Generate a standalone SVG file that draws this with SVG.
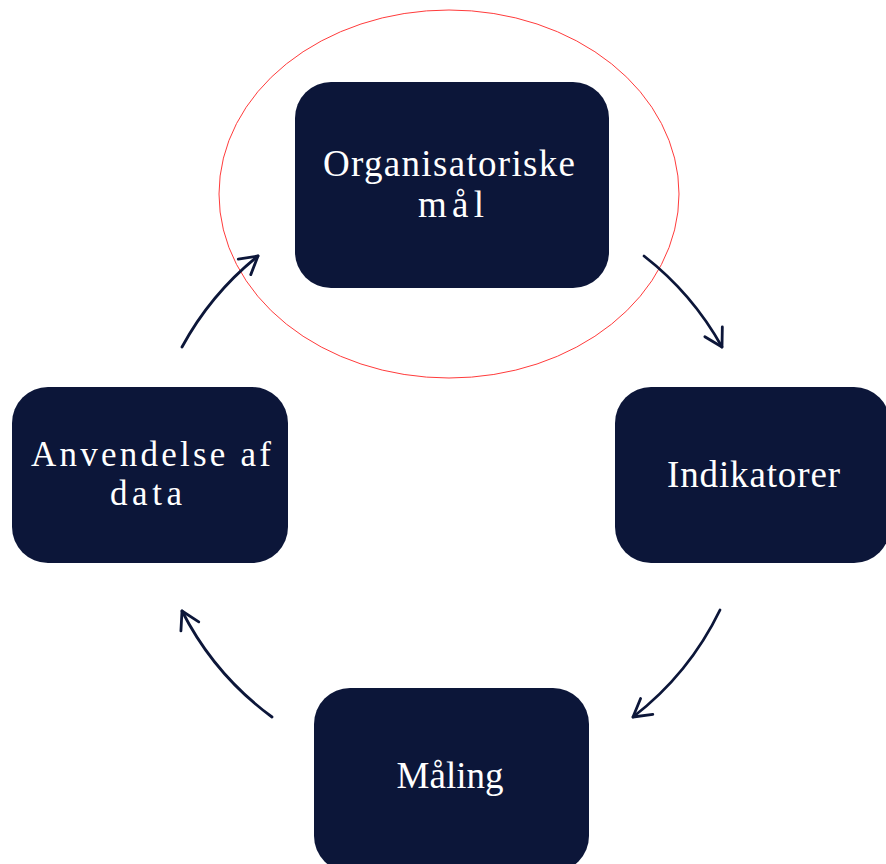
<svg xmlns="http://www.w3.org/2000/svg" width="886" height="864" viewBox="0 0 886 864">
  <style>
    .box { fill: #0c1639; }
    .lbl { fill: #ffffff; font-family: "Liberation Serif", "Times New Roman", serif; font-size: 37px; text-anchor: middle; }
    .sm { font-size: 35px; }
    .conn { fill: none; stroke: #0c1639; stroke-width: 2.8; stroke-linecap: round; }
  </style>
  <defs>
    <marker id="arr" markerUnits="userSpaceOnUse" markerWidth="40" markerHeight="40" viewBox="-25 -20 40 40" refX="0" refY="0" orient="auto">
      <path d="M -17.3 -10 L 0 0 L -17.3 10" fill="none" stroke="#0c1639" stroke-width="2.8" stroke-linecap="round" stroke-linejoin="round"/>
    </marker>
  </defs>
  <rect width="886" height="864" fill="#ffffff"/>

  <g id="node-organisatoriske">
    <rect class="box" x="295" y="82" width="314" height="206" rx="36"/>
    <text class="lbl" x="449" y="176" textLength="252" lengthAdjust="spacing">Organisatoriske</text>
    <text class="lbl" x="451" y="217" textLength="66" lengthAdjust="spacing">mål</text>
  </g>
  <g id="node-indikatorer">
    <rect class="box" x="615" y="387" width="275" height="176" rx="36"/>
    <text class="lbl" x="753.5" y="487" textLength="173" lengthAdjust="spacing">Indikatorer</text>
  </g>
  <g id="node-maaling">
    <rect class="box" x="314" y="688" width="275" height="184" rx="36"/>
    <text class="lbl" x="450" y="788" textLength="107" lengthAdjust="spacing">Måling</text>
  </g>
  <g id="node-anvendelse">
    <rect class="box" x="12" y="387" width="276" height="176" rx="36"/>
    <text class="lbl sm" x="151" y="466" textLength="240" lengthAdjust="spacing">Anvendelse af</text>
    <text class="lbl sm" x="146" y="505" textLength="72" lengthAdjust="spacing">data</text>
  </g>

  <g id="highlight">
    <ellipse cx="449" cy="194" rx="230" ry="184" fill="none" stroke="#ff3b3b" stroke-width="1"/>
  </g>

  <g id="connectors">
    <path class="conn" d="M 644 256 A 300 300 0 0 1 722 347" marker-end="url(#arr)"/>
    <path class="conn" d="M 720 610 A 300 300 0 0 1 633 717" marker-end="url(#arr)"/>
    <path class="conn" d="M 272 717 A 300 300 0 0 1 182 611" marker-end="url(#arr)"/>
    <path class="conn" d="M 182 347 A 300 300 0 0 1 258 256" marker-end="url(#arr)"/>
  </g>
</svg>
